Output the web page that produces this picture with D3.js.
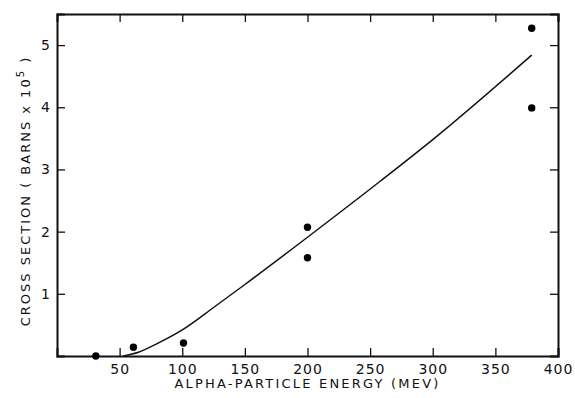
<!DOCTYPE html>
<html>
<head>
<meta charset="utf-8">
<script src="https://cdn.jsdelivr.net/npm/d3@7"></script>
<style>
  body { margin: 0; background: #fff; }
  text { font-family: "DejaVu Sans", sans-serif; fill: #111; }
</style>
</head>
<body>
<svg id="chart"></svg>
<script>
/* data */
var energy = [31, 61, 101, 200, 200, 379, 379];
var crossSection = [0, 0.14, 0.21, 2.07, 1.58, 5.27, 3.99];

var curveEnergy = [53, 65, 80, 100, 125, 150, 200, 258, 300, 379];
var curveValue = [0, 0.06, 0.2, 0.42, 0.78, 1.15, 1.91, 2.81, 3.48, 4.84];

var xTicks = [50, 100, 150, 200, 250, 300, 350, 400];
var yTicks = [1, 2, 3, 4, 5];

/* settings */
var width = 575,
    height = 398,
    margin = { top: 14, right: 17, bottom: 42, left: 57 },
    tickSize = 8;

var innerWidth = width - margin.left - margin.right;
var innerHeight = height - margin.top - margin.bottom;

var svg = d3.select("#chart")
    .attr("width", width)
    .attr("height", height);

var g = svg.append("g")
    .attr("transform", "translate(" + margin.left + "," + margin.top + ")");

var xScale = d3.scaleLinear().domain([0, 400]).range([0, innerWidth]);
var yScale = d3.scaleLinear().domain([0, 5.5]).range([innerHeight, 0]);

/* axes: ticks point inward on all four sides */
var xAxis = g.append("g")
    .attr("transform", "translate(0," + innerHeight + ")")
    .call(d3.axisBottom(xScale).tickValues(xTicks).tickSize(-tickSize).tickPadding(6).tickFormat(d3.format("d")));
var xTop = g.append("g")
    .call(d3.axisTop(xScale).tickValues(xTicks).tickSize(-tickSize).tickFormat(""));
var yAxis = g.append("g")
    .call(d3.axisLeft(yScale).tickValues(yTicks).tickSize(-tickSize).tickPadding(6).tickFormat(d3.format("d")));
var yRight = g.append("g")
    .attr("transform", "translate(" + innerWidth + ",0)")
    .call(d3.axisRight(yScale).tickValues(yTicks).tickSize(-tickSize).tickFormat(""));

// mirrored axes carry no labels
xTop.selectAll("text").remove();
yRight.selectAll("text").remove();

[xAxis, xTop, yAxis, yRight].forEach(function (a) {
    a.select(".domain").attr("stroke", "#111").attr("stroke-width", 2);
    a.selectAll(".tick line").attr("stroke", "#111").attr("stroke-width", 1.3);
    a.selectAll("text").style("font-size", "14px").style("letter-spacing", "1px");
});
xAxis.selectAll("text").attr("y", 6).attr("dy", "12px");

/* fitted curve */
var curveData = curveEnergy.map(function (e, i) { return [e, curveValue[i]]; });
var line = d3.line()
    .x(function (d) { return xScale(d[0]); })
    .y(function (d) { return yScale(d[1]); })
    .curve(d3.curveMonotoneX);

g.append("path")
    .datum(curveData)
    .attr("fill", "none")
    .attr("stroke", "#111")
    .attr("stroke-width", 1.5)
    .attr("d", line);

/* measured points */
var points = energy.map(function (e, i) { return { x: e, y: crossSection[i] }; });
g.selectAll(".dot")
    .data(points)
    .enter()
    .append("circle")
    .attr("class", "dot")
    .attr("cx", function (d) { return xScale(d.x); })
    .attr("cy", function (d) { return yScale(d.y); })
    .attr("r", 3.7)
    .attr("fill", "#000");

/* axis titles */
svg.append("text")
    .attr("x", margin.left + xScale(200))
    .attr("y", 388)
    .attr("text-anchor", "middle")
    .style("font-size", "13px")
    .style("letter-spacing", "2.2px")
    .text("ALPHA-PARTICLE ENERGY (MEV)");

var yTitle = svg.append("text")
    .attr("transform", "translate(30," + 191 + ") rotate(-90)")
    .attr("text-anchor", "middle")
    .style("font-size", "13px")
    .style("letter-spacing", "2px");
yTitle.append("tspan").text("CROSS SECTION ( BARNS x 10");
yTitle.append("tspan").attr("dy", "-6").style("font-size", "10px").text("5");
yTitle.append("tspan").attr("dy", "6").text(" )");
</script>
</body>
</html>
